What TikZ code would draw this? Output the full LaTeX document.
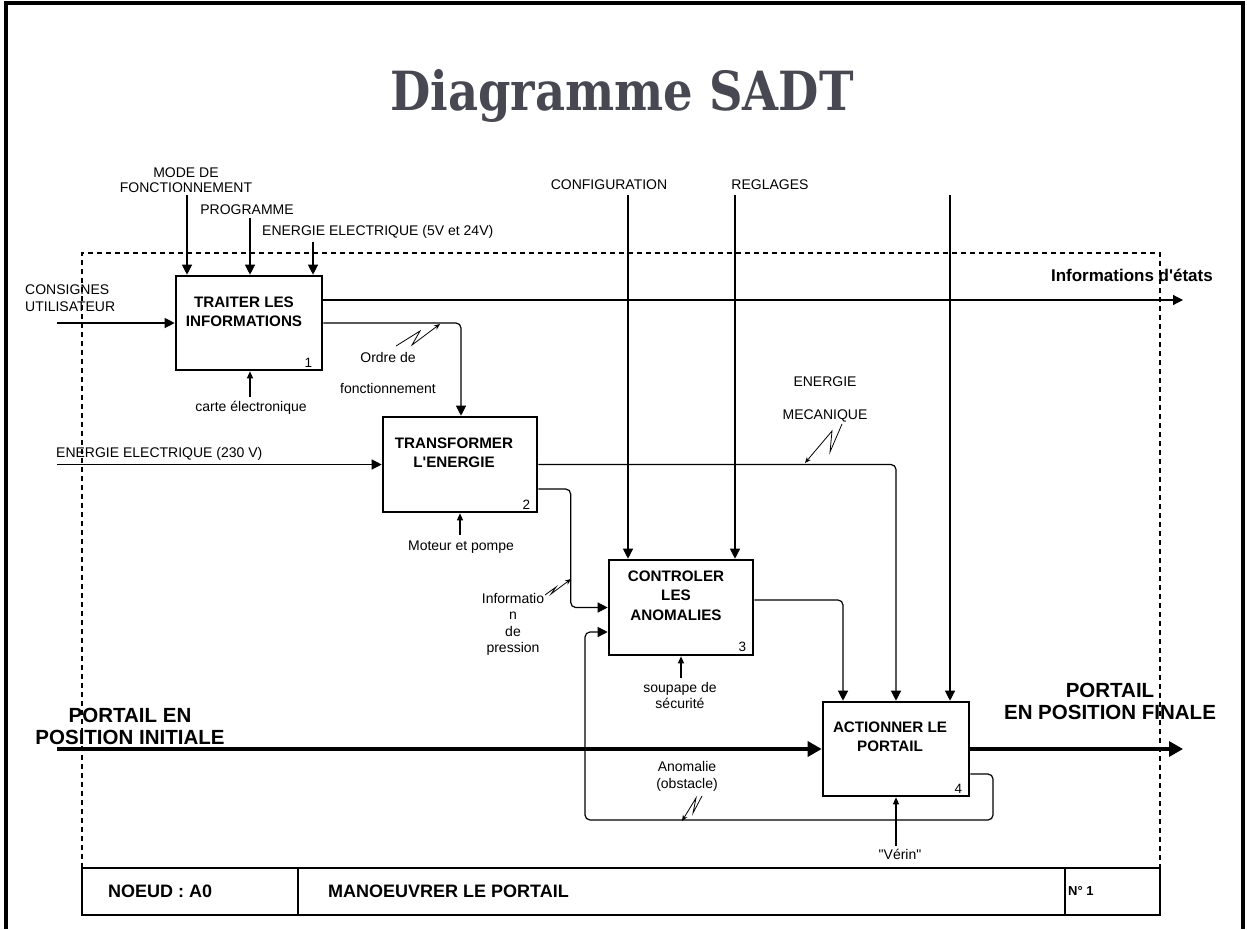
\documentclass[tikz,border=0pt]{standalone}
\usepackage{fontspec}
\setmainfont{Liberation Sans}
\newfontfamily\titlefont[FakeStretch=0.86]{DejaVu Serif}
\usepackage{tikz}
\usetikzlibrary{arrows.meta}
\definecolor{titlegray}{RGB}{72,72,82}

\begin{document}
\begin{tikzpicture}[x=1pt, y=-1pt,
  every node/.style={inner sep=0pt, font=\fontsize{14}{15}\selectfont},
  lbl/.style={align=center},
  fn/.style={draw, rectangle, line width=2.6pt, minimum width=146pt, minimum height=94pt},
  fntext/.style={align=center, font=\bfseries\fontsize{15.2}{19.5}\selectfont},
  fnum/.style={anchor=south east, font=\fontsize{13.5}{15}\selectfont},
  biglbl/.style={align=center, font=\bfseries\fontsize{20.5}{22}\selectfont},
  blocktxt/.style={anchor=west, font=\bfseries\fontsize{18}{20}\selectfont},
  flow/.style={line width=1.2pt, rounded corners=5pt, -{Triangle[length=10pt,width=10pt]}},
  mech/.style={line width=1.2pt, -{Triangle[length=7pt,width=6pt]}},
  big/.style={line width=3.2pt, -{Triangle[length=14pt,width=15pt]}},
  squig/.style={line width=0.8pt, -{Stealth[length=6pt,width=5pt]}}]
\useasboundingbox (0,0) rectangle (1247,929);

% Frame, title and node limits
\draw[line width=4pt] (6,929) -- (6,3) -- (1243,3) -- (1243,929);
\node[font=\titlefont\bfseries\fontsize{54}{60}\selectfont, text=titlegray] (title) at (622,96) {Diagramme SADT};
\draw[line width=1.1pt, dash pattern=on 5pt off 4pt] (82,868) -- (82,253) -- (1160,253) -- (1160,868);

% Title block
\draw[line width=1.5pt] (82,868) rectangle (1160,915);
\draw[line width=1.3pt] (298,868) -- (298,915) (1065,868) -- (1065,915);
\node[blocktxt] (noeud) at (108,891) {NOEUD : A0};
\node[blocktxt] (titre) at (328,891) {MANOEUVRER LE PORTAIL};
\node[blocktxt, font=\bfseries\fontsize{13}{15}\selectfont] (numero) at (1068,891) {N° 1};

% Functions
\node[fn] (traiter) at (249,323) {};
\node[fntext] (traiter-t) at ([shift={(-5,37)}]traiter.north) {TRAITER LES\\INFORMATIONS};
\node[fnum] (traiter-n) at ([shift={(-11,-4)}]traiter.south east) {1};

\node[fn, minimum width=154pt, minimum height=95pt] (transformer) at (460,464.5) {};
\node[fntext] (transformer-t) at ([shift={(-6,37)}]transformer.north) {TRANSFORMER\\L\textquotesingle ENERGIE};
\node[fnum] (transformer-n) at ([shift={(-8,-4)}]transformer.south east) {2};

\node[fn, minimum width=144pt, minimum height=95pt] (controler) at (681,607.5) {};
\node[fntext] (controler-t) at ([shift={(-5,37)}]controler.north) {CONTROLER\\LES\\ANOMALIES};
\node[fnum] (controler-n) at ([shift={(-8,-4)}]controler.south east) {3};

\node[fn] (actionner) at (896,749) {};
\node[fntext] (actionner-t) at ([shift={(-6,36)}]actionner.north) {ACTIONNER LE\\PORTAIL};
\node[fnum] (actionner-n) at ([shift={(-8,-4)}]actionner.south east) {4};

% Traiter les informations
\coordinate (modeIn) at (187,195);
\coordinate (progIn) at (250,218);
\coordinate (elecIn) at (313,242);
\coordinate (consIn) at (57,323);
\coordinate (carteIn) at (250,397);
\coordinate (etatsOut) at (1183,300);
\node[lbl] (mode) at (186,180.5) {MODE DE\\FONCTIONNEMENT};
\node[lbl] (prog) at (247,210) {PROGRAMME};
\node[lbl, anchor=west] (elec) at (262,232) {ENERGIE ELECTRIQUE (5V et 24V)};
\node[align=left, anchor=west, font=\fontsize{14}{17}\selectfont] (cons) at (25,298.5) {CONSIGNES\\UTILISATEUR};
\node[lbl] (carte) at (251,408) {carte électronique};
\node[anchor=east, font=\bfseries\fontsize{17}{18}\selectfont] (etats) at (1213,275) {Informations d\textquotesingle états};
\draw[flow] (modeIn) -- (modeIn |- traiter.north);
\draw[flow] (progIn) -- (progIn |- traiter.north);
\draw[flow] (elecIn) -- (elecIn |- traiter.north);
\draw[flow] (consIn) -- (consIn -| traiter.west);
\draw[mech] (carteIn) -- (carteIn |- traiter.south);
\draw[flow] (traiter.east |- etatsOut) -- (etatsOut);
\draw[flow] (traiter.east) -| ([xshift=1pt]transformer.north);

% Ordre de fonctionnement
\node[lbl] (ordre) at (388,372.5) {Ordre de\\[16pt]fonctionnement};
\coordinate (ordreA) at (396,346);
\coordinate (ordreB) at (440,324);
\draw[squig] (ordreA) -- (420,331) -- (412,345) -- (ordreB);

% Transformer l'energie
\coordinate (elec230In) at (57,464.5);
\coordinate (moteurIn) at (460,535);
\node[lbl, anchor=west] (elec230) at (56,454) {ENERGIE ELECTRIQUE (230 V)};
\node[lbl] (moteur) at (461,547) {Moteur et pompe};
\draw[flow] (elec230In) -- (transformer.west);
\draw[mech] (moteurIn) -- (moteurIn |- transformer.south);
\draw[flow] (transformer.east) -| (actionner.north);
\draw[flow] ([yshift=-24.5pt]transformer.east) -| ([xshift=-37pt]controler.west) -- (controler.west);

% Energie mecanique / information de pression
\node[lbl] (meca) at (825,399.5) {ENERGIE\\[18pt]MECANIQUE};
\coordinate (mecaA) at (842,424);
\coordinate (mecaB) at (805,463);
\draw[squig] (mecaA) -- (830,452) -- (832,431) -- (mecaB);
\node[lbl, font=\fontsize{14}{16.3}\selectfont] (pression) at (513,624.5) {Informatio\\n\\de\\pression};
\coordinate (pressA) at (545,595);
\coordinate (pressB) at (571,579);
\draw[squig] (pressA) -- (556,587) -- (551,594) -- (pressB);

% Controler les anomalies
\coordinate (configIn) at (628,195);
\coordinate (reglIn) at (735,195);
\coordinate (soupIn) at (681,678);
\node[lbl] (config) at (609,185) {CONFIGURATION};
\node[lbl] (regl) at (770,185) {REGLAGES};
\node[lbl, font=\fontsize{14}{16}\selectfont] (soup) at (680,695) {soupape de\\sécurité};
\draw[flow] (configIn) -- (configIn |- controler.north);
\draw[flow] (reglIn) -- (reglIn |- controler.north);
\draw[mech] (soupIn) -- (soupIn |- controler.south);
\draw[flow] ([yshift=7.5pt]controler.east) -| ([xshift=-53pt]actionner.north);

% Actionner le portail
\coordinate (thirdIn) at (950,195);
\coordinate (portailIn) at (57,749);
\coordinate (portailOut) at (1183,749);
\coordinate (verinIn) at (896,846);
\node[biglbl] (initiale) at (130,726) {PORTAIL EN\\POSITION INITIALE};
\node[biglbl] (finale) at (1110,701) {PORTAIL\\EN POSITION FINALE};
\node[lbl] (verin) at (900,854) {\textquotedbl Vérin\textquotedbl};
\draw[flow] (thirdIn) -- (thirdIn |- actionner.north);
\draw[big] (portailIn) -- (actionner.west);
\draw[big] (actionner.east) -- (portailOut);
\draw[mech] (verinIn) -- (actionner.south);

% Anomalie (obstacle) loop
\coordinate (loopA) at (993,820);
\coordinate (loopB) at (585,632);
\draw[flow] ([yshift=-25pt]actionner.east) -| (loopA) -| (loopB) -- (loopB -| controler.west);
\node[lbl, font=\fontsize{14}{17}\selectfont] (anomalie) at (687,776.5) {Anomalie\\(obstacle)};
\coordinate (anoA) at (702,796);
\coordinate (anoB) at (682,821);
\draw[squig] (anoA) -- (693,813) -- (696,798) -- (anoB);
\end{tikzpicture}
\end{document}
